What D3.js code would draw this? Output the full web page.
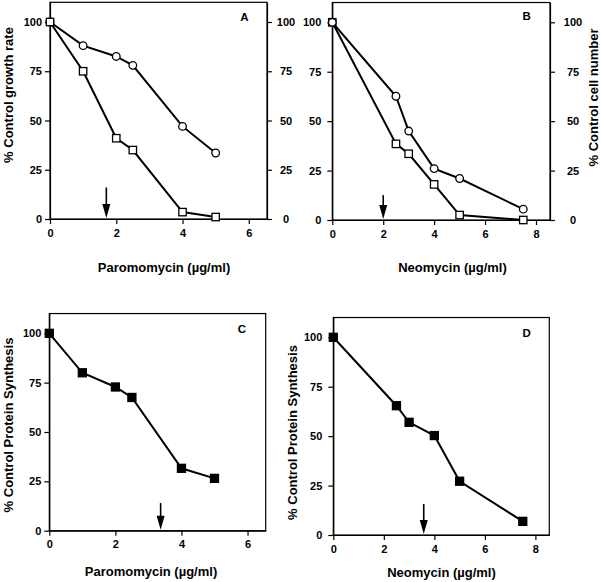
<!DOCTYPE html>
<html><head><meta charset="utf-8">
<script src="https://cdn.jsdelivr.net/npm/d3@7"></script>
<style>
html,body{margin:0;padding:0;background:#fff;}
svg text{font-family:"Liberation Sans",Arial,Helvetica,sans-serif;font-weight:bold;fill:#000;}
</style></head>
<body>
<svg id="chart" width="601" height="582"></svg>
<script>
// ---- data ----
const doseParomomycin = [0, 1, 2, 2.5, 4, 5];
const doseNeomycin = [0, 2.5, 3, 4, 5, 7.5];
const growthA = [100, 88, 82.5, 78, 47, 33.5];      // circles
const cellsA = [100, 75, 41, 35, 3.5, 1];           // squares
const growthB = [100, 62.6, 45, 26, 21, 5.5];       // circles
const cellsB = [100, 38.5, 33.5, 18, 2.5, 0];       // squares
const proteinC = [100, 80, 72.8, 67.5, 31.6, 26.5];
const proteinD = [100, 65.4, 57, 50.3, 27.2, 6.9];
const yTicks = [0, 25, 50, 75, 100];
const xTicksP = [0, 2, 4, 6];
const xTicksN = [0, 2, 4, 6, 8];
const arrowDose = {A: 1.7, B: 2.0, C: 3.37, D: 3.58};
const arrowTopValue = {A: 16, B: 12.6, C: 14, D: 15.7};
const panelLetters = ["A", "B", "C", "D"];

const svg = d3.select("#chart");

const panels = [
  {id: "A", left: 50, right: 267, bottom: 219, y100: 22, xMax: 6.55, xTicks: xTicksP,
   dose: doseParomomycin, series: [{v: growthA, m: "circle"}, {v: cellsA, m: "square"}],
   xTitle: "Paromomycin (\u00b5g/ml)", xTitleX: 164, xTitleY: 272,
   yTitle: "% Control growth rate", yTitleX: 13, yTitleY: 95,
   rightAxis: true, rightLabelX: 19, leftPad: 3,
   letterX: 244.5, letterY: 20.5},
  {id: "B", left: 332.3, right: 550, bottom: 220, y100: 22.3, xMax: 8.55, xTicks: xTicksN,
   dose: doseNeomycin, series: [{v: cellsB, m: "square"}, {v: growthB, m: "circle"}],
   xTitle: "Neomycin (\u00b5g/ml)", xTitleX: 452.5, xTitleY: 272,
   rightTitle: "% Control cell number", rightTitleX: 597.5, rightTitleY: 97.5,
   rightAxis: true, rightLabelX: 23, leftPad: 6,
   letterX: 526.7, letterY: 20},
  {id: "C", left: 49.3, right: 265.7, bottom: 530.7, y100: 333.3, xMax: 6.55, xTicks: xTicksP,
   dose: doseParomomycin, series: [{v: proteinC, m: "filled"}],
   xTitle: "Paromomycin (\u00b5g/ml)", xTitleX: 151, xTitleY: 576,
   yTitle: "% Control Protein Synthesis", yTitleX: 12.5, yTitleY: 425,
   rightAxis: false, leftPad: 3,
   letterX: 242, letterY: 333},
  {id: "D", left: 333.3, right: 549.3, bottom: 535, y100: 337.3, xMax: 8.55, xTicks: xTicksN,
   dose: doseNeomycin, series: [{v: proteinD, m: "filled"}],
   xTitle: "Neomycin (\u00b5g/ml)", xTitleX: 441.5, xTitleY: 577,
   yTitle: "% Control Protein Synthesis", yTitleX: 296.5, yTitleY: 432.5,
   rightAxis: false, leftPad: 6,
   letterX: 526.7, letterY: 336.7}
];

const fmt = d3.format("d");

panels.forEach((p, i) => {
  const pxPerUnit = (p.bottom - p.y100) / 100;
  const top = p.bottom - pxPerUnit * 110;
  const x = d3.scaleLinear().domain([0, p.xMax]).range([p.left, p.right]);
  const y = d3.scaleLinear().domain([0, 110]).range([p.bottom, top]);
  const g = svg.append("g");

  // frame
  g.append("rect").attr("x", p.left).attr("y", top)
    .attr("width", p.right - p.left).attr("height", p.bottom - top)
    .attr("fill", "none").attr("stroke", "#000").attr("stroke-width", 1.2);

  // bottom axis
  const xa = g.append("g").attr("transform", `translate(0,${p.bottom})`)
    .call(d3.axisBottom(x).tickValues(p.xTicks).tickFormat(fmt).tickSize(5).tickPadding(5).tickSizeOuter(0));
  // left axis
  const ya = g.append("g").attr("transform", `translate(${p.left},0)`)
    .call(d3.axisLeft(y).tickValues(yTicks).tickFormat(fmt).tickSize(5).tickPadding(p.leftPad).tickSizeOuter(0));
  [xa, ya].forEach(a => {
    a.select(".domain").attr("stroke", "#000").attr("stroke-width", 1.2);
    a.selectAll(".tick line").attr("stroke", "#000").attr("stroke-width", 1.2);
    a.selectAll(".tick text").style("font-size", "11px").style("font-weight", "bold")
      .style("font-family", "'Liberation Sans',Arial,sans-serif");
  });
  if (p.rightAxis) {
    const ra = g.append("g").attr("transform", `translate(${p.right},0)`)
      .call(d3.axisRight(y).tickValues(yTicks).tickFormat(fmt).tickSize(5).tickSizeOuter(0));
    ra.select(".domain").attr("stroke", "#000").attr("stroke-width", 1.2);
    ra.selectAll(".tick line").attr("stroke", "#000").attr("stroke-width", 1.2);
    ra.selectAll(".tick text").attr("x", p.rightLabelX).attr("text-anchor", "middle")
      .style("font-size", "11px").style("font-weight", "bold")
      .style("font-family", "'Liberation Sans',Arial,sans-serif");
  }

  // lines & markers
  const line = d3.line().x(d => x(d[0])).y(d => y(d[1]));
  p.series.forEach(s => {
    const pts = p.dose.map((d, k) => [d, s.v[k]]);
    g.append("path").datum(pts).attr("d", line)
      .attr("fill", "none").attr("stroke", "#000").attr("stroke-width", 2);
    if (s.m === "circle") {
      g.selectAll(null).data(pts).enter().append("circle")
        .attr("cx", d => x(d[0])).attr("cy", d => y(d[1])).attr("r", 3.8)
        .attr("fill", "#fff").attr("stroke", "#000").attr("stroke-width", 1.3);
    } else {
      const sz = s.m === "filled" ? 8 : 7.4;
      g.selectAll(null).data(pts).enter().append("rect")
        .attr("x", d => x(d[0]) - sz / 2).attr("y", d => y(d[1]) - sz / 2)
        .attr("width", sz).attr("height", sz)
        .attr("fill", s.m === "filled" ? "#000" : "#fff")
        .attr("stroke", "#000").attr("stroke-width", 1.3);
    }
  });

  // arrow
  const ax = x(arrowDose[p.id]);
  const aTop = y(arrowTopValue[p.id]);
  const aTip = p.bottom - 1;
  g.append("line").attr("x1", ax).attr("x2", ax).attr("y1", aTop).attr("y2", aTip - 12)
    .attr("stroke", "#000").attr("stroke-width", 1.6);
  g.append("path").attr("d", `M${ax - 4},${aTip - 14}L${ax + 4},${aTip - 14}L${ax},${aTip}Z`)
    .attr("fill", "#000");

  // titles
  g.append("text").attr("x", p.xTitleX).attr("y", p.xTitleY).attr("text-anchor", "middle")
    .style("font-size", "13px").text(p.xTitle);
  if (p.yTitle) {
    g.append("text").attr("transform", `translate(${p.yTitleX},${p.yTitleY}) rotate(-90)`)
      .attr("text-anchor", "middle").style("font-size", "13px").text(p.yTitle);
  }
  if (p.rightTitle) {
    g.append("text").attr("transform", `translate(${p.rightTitleX},${p.rightTitleY}) rotate(-90)`)
      .attr("text-anchor", "middle").style("font-size", "13px").text(p.rightTitle);
  }
  g.append("text").attr("x", p.letterX).attr("y", p.letterY).attr("text-anchor", "middle")
    .style("font-size", "11.5px").text(panelLetters[i]);
});
</script>
</body></html>
